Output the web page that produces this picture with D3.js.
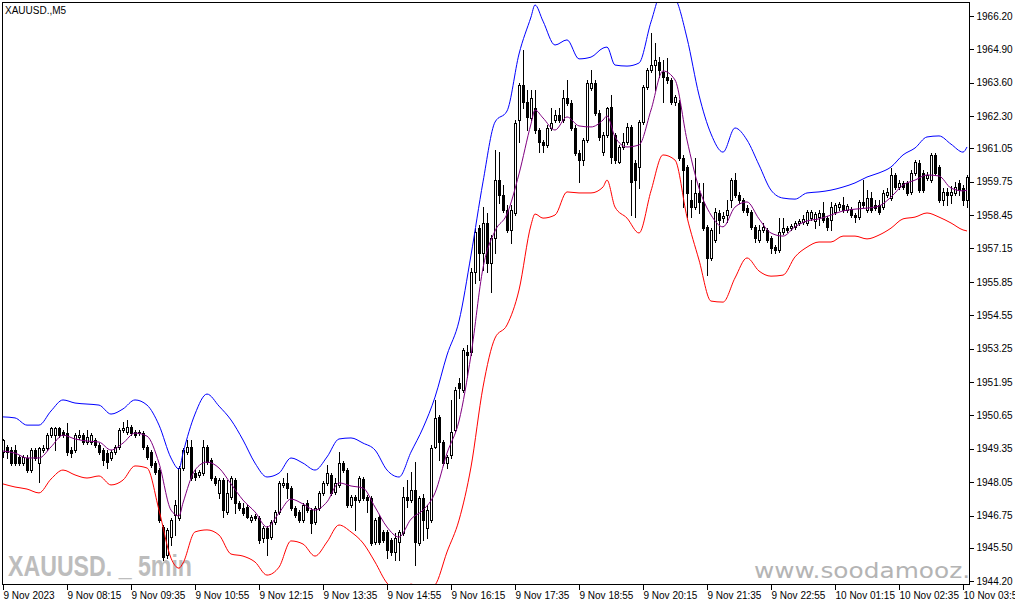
<!DOCTYPE html>
<html><head><meta charset="utf-8">
<script src="https://cdn.jsdelivr.net/npm/d3@7"></script>
<style>html,body{margin:0;padding:0;background:#fff;overflow:hidden}</style>
</head><body><svg id="c" width="1015" height="605"></svg>
<script>
const symbolLabel = "XAUUSD.,M5";
const watermarkLeft = "XAUUSD. _ 5min";
const watermarkRight = "www.soodamooz.com";
const xTickBars = [0,16,32,48,64,80,96,112,128,144,160,176,192,208,224,240];
const xTickLabels = ["9 Nov 2023","9 Nov 08:15","9 Nov 09:35","9 Nov 10:55","9 Nov 12:15","9 Nov 13:35","9 Nov 14:55","9 Nov 16:15","9 Nov 17:35","9 Nov 18:55","9 Nov 20:15","9 Nov 21:35","9 Nov 22:55","10 Nov 01:15","10 Nov 02:35","10 Nov 03:55"];
const yTickLabels = ["1966.20","1964.90","1963.60","1962.30","1961.05","1959.75","1958.45","1957.15","1955.85","1954.55","1953.25","1951.95","1950.65","1949.35","1948.05","1946.75","1945.50","1944.20"];

const open = [1949.22,1949.42,1949.30,1949.30,1949.03,1948.79,1948.99,1948.52,1949.30,1948.79,1949.30,1949.38,1949.88,1949.88,1950.16,1950.00,1949.96,1949.30,1949.30,1949.81,
1949.88,1949.61,1949.61,1949.69,1949.49,1949.30,1949.18,1948.99,1949.22,1949.42,1950.08,1950.00,1950.20,1950.00,1950.00,1949.96,1949.42,1949.22,1948.79,1948.52,
1946.30,1945.21,1945.91,1946.77,1946.65,1948.60,1949.22,1949.42,1948.40,1948.33,1948.40,1949.42,1948.91,1948.21,1947.63,1948.13,1946.89,1947.47,1948.13,1947.24,
1947.04,1947.08,1946.57,1946.73,1946.65,1945.87,1946.26,1945.91,1946.50,1946.89,1947.94,1948.02,1947.82,1947.04,1946.89,1946.57,1947.24,1946.96,1946.50,1947.04,
1947.63,1948.02,1948.33,1947.66,1947.94,1948.79,1948.52,1947.16,1947.47,1947.35,1948.17,1947.47,1947.43,1945.72,1946.69,1946.11,1946.11,1945.80,1945.33,1945.72,
1946.07,1947.47,1947.35,1947.74,1945.68,1947.43,1946.26,1946.57,1949.42,1950.59,1949.61,1948.79,1949.11,1950.08,1951.91,1951.64,1953.12,1953.12,1956.23,1957.94,
1956.97,1958.14,1956.58,1957.55,1959.81,1959.23,1958.65,1957.87,1958.53,1962.15,1963.51,1962.85,1962.23,1962.62,1961.76,1961.29,1961.18,1961.84,1962.15,1962.35,
1962.15,1963.01,1962.81,1961.84,1960.87,1960.59,1961.37,1963.40,1963.59,1962.42,1960.90,1961.57,1962.66,1961.57,1960.51,1961.10,1961.29,1961.88,1960.48,1960.32,
1962.07,1963.43,1964.10,1964.29,1964.41,1964.02,1963.82,1963.71,1962.85,1962.81,1960.67,1960.32,1959.04,1958.76,1959.31,1958.96,1957.99,1956.78,1957.48,1958.53,
1958.33,1958.45,1959.04,1959.81,1959.23,1959.04,1958.72,1958.57,1957.99,1957.48,1957.87,1957.87,1957.55,1957.20,1957.09,1957.79,1957.94,1957.94,1957.99,1958.14,
1958.18,1958.14,1958.33,1958.22,1958.37,1958.53,1958.33,1958.26,1958.57,1958.76,1958.84,1958.65,1958.68,1958.45,1958.37,1958.96,1958.65,1959.11,1958.84,1958.84,
1958.76,1959.23,1959.11,1960.01,1959.54,1959.70,1959.70,1959.35,1960.09,1960.48,1960.09,1959.89,1959.81,1960.79,1960.32,1959.04,1959.35,1959.23,1959.31,1959.70,
1959.50,1959.04];
const high = [1949.73,1949.49,1949.42,1949.49,1949.11,1949.11,1949.11,1949.38,1949.38,1949.42,1949.49,1949.96,1950.20,1950.20,1950.20,1950.08,1950.35,1949.42,1949.96,1950.08,
1949.96,1950.08,1949.96,1949.77,1949.57,1949.38,1949.30,1949.30,1949.49,1950.16,1950.39,1950.47,1950.27,1950.08,1950.08,1950.04,1949.49,1949.30,1948.87,1948.60,
1946.38,1946.26,1946.65,1947.35,1948.68,1949.38,1949.69,1949.69,1948.52,1948.52,1949.69,1949.49,1948.99,1948.29,1948.21,1948.21,1948.13,1948.29,1948.21,1947.31,
1947.24,1947.16,1946.77,1946.81,1946.73,1946.34,1946.34,1946.57,1946.96,1948.09,1948.21,1948.40,1947.90,1947.12,1946.96,1947.24,1947.35,1947.04,1947.12,1947.70,
1948.09,1948.72,1948.40,1948.21,1949.22,1948.87,1948.60,1947.55,1947.55,1948.29,1948.25,1947.55,1947.51,1946.65,1946.77,1946.19,1946.19,1945.87,1946.07,1946.19,
1947.86,1948.13,1948.44,1948.83,1947.51,1947.59,1947.16,1949.49,1951.25,1950.66,1949.69,1949.11,1951.25,1951.75,1952.10,1953.27,1953.39,1956.39,1957.94,1958.06,
1958.76,1958.53,1957.67,1960.98,1960.90,1959.62,1958.84,1958.84,1962.15,1963.59,1964.88,1963.32,1963.32,1963.32,1961.84,1961.37,1961.96,1962.62,1962.54,1962.62,
1963.32,1963.71,1962.93,1961.96,1960.98,1961.45,1963.71,1964.10,1963.71,1962.54,1961.68,1962.66,1963.12,1961.64,1961.18,1961.64,1962.04,1961.96,1960.59,1962.15,
1963.51,1964.18,1965.54,1965.15,1964.60,1964.49,1964.57,1963.79,1963.12,1962.93,1960.79,1960.40,1959.81,1960.67,1959.70,1959.70,1958.06,1957.94,1958.72,1958.65,
1958.57,1959.04,1959.89,1960.09,1959.35,1959.11,1958.84,1958.65,1958.06,1958.06,1958.14,1957.94,1957.63,1957.28,1958.33,1958.33,1958.02,1958.10,1958.22,1958.30,
1958.45,1958.65,1958.65,1958.57,1958.65,1958.96,1958.41,1958.96,1958.92,1958.96,1959.15,1958.88,1958.76,1958.53,1959.04,1959.81,1959.42,1959.35,1959.04,1959.04,
1959.42,1959.50,1960.28,1960.09,1959.81,1959.77,1959.77,1960.20,1960.59,1960.59,1960.20,1960.13,1960.87,1960.87,1960.40,1959.50,1959.50,1959.58,1959.74,1959.81,
1959.62,1960.01];
const low = [1949.03,1948.99,1948.72,1948.72,1948.72,1948.72,1948.44,1948.44,1948.91,1948.05,1949.22,1949.30,1949.81,1949.30,1949.81,1949.81,1949.11,1949.03,1949.22,1949.73,
1949.53,1949.53,1949.53,1949.42,1949.14,1948.72,1948.60,1948.91,1949.14,1949.34,1950.00,1949.92,1949.88,1949.81,1949.88,1949.34,1948.95,1948.64,1948.37,1946.50,
1945.02,1945.09,1945.60,1945.99,1946.57,1948.52,1949.14,1948.13,1948.13,1948.25,1948.33,1948.76,1948.13,1947.94,1947.43,1946.69,1946.81,1947.39,1946.85,1946.96,
1946.77,1946.65,1946.50,1946.57,1945.68,1945.72,1945.21,1945.84,1946.42,1946.81,1947.86,1947.43,1946.96,1946.69,1946.50,1946.50,1946.89,1946.07,1946.42,1946.96,
1947.55,1947.94,1947.55,1947.59,1947.86,1948.44,1947.08,1947.08,1946.19,1947.28,1947.35,1946.89,1945.60,1945.64,1945.64,1945.72,1945.09,1945.21,1945.02,1945.02,
1945.99,1947.08,1947.28,1944.82,1945.60,1945.80,1945.87,1946.50,1949.38,1948.91,1948.72,1948.60,1948.99,1950.00,1951.32,1951.56,1952.14,1953.00,1955.80,1955.92,
1956.31,1956.23,1955.45,1956.97,1958.92,1958.57,1957.79,1957.36,1958.45,1961.29,1962.62,1961.76,1962.15,1961.64,1960.90,1960.90,1961.10,1961.76,1962.07,1962.07,
1962.07,1962.73,1961.76,1960.79,1959.74,1960.40,1961.29,1963.32,1962.35,1961.37,1960.79,1961.49,1960.48,1960.48,1960.48,1961.02,1961.21,1958.45,1958.37,1959.50,
1962.00,1963.36,1964.02,1963.32,1963.82,1962.85,1963.59,1962.77,1962.73,1960.59,1958.76,1958.37,1958.37,1958.68,1958.53,1957.87,1956.11,1956.70,1957.40,1957.75,
1958.18,1958.18,1958.76,1959.15,1958.92,1958.57,1958.45,1957.91,1957.40,1957.40,1957.79,1957.40,1956.97,1956.97,1957.01,1957.71,1957.79,1957.87,1957.91,1958.06,
1958.10,1958.06,1958.26,1957.94,1958.06,1958.18,1957.87,1957.87,1958.49,1958.65,1958.57,1958.57,1958.37,1958.18,1958.30,1958.76,1958.57,1958.57,1958.65,1958.49,
1958.68,1959.15,1959.04,1959.46,1959.46,1959.46,1959.23,1959.27,1960.01,1959.35,1959.35,1959.81,1959.74,1960.01,1958.96,1958.84,1958.84,1958.92,1959.23,1959.23,
1958.84,1958.76];
const close = [1949.69,1949.22,1948.79,1948.79,1948.79,1949.03,1948.52,1949.30,1948.99,1949.38,1949.38,1949.88,1950.16,1950.16,1949.88,1949.88,1949.22,1949.18,1949.88,1949.88,
1949.61,1949.81,1949.88,1949.49,1949.22,1948.91,1948.83,1949.22,1949.42,1950.08,1950.16,1950.20,1949.96,1949.88,1949.96,1949.42,1949.03,1948.72,1948.44,1946.57,
1945.13,1946.19,1946.57,1947.16,1948.60,1949.30,1949.42,1948.21,1948.25,1948.44,1949.42,1948.83,1948.21,1948.02,1948.13,1946.96,1947.63,1948.21,1947.24,1947.04,
1946.85,1946.69,1946.69,1946.65,1945.80,1946.26,1945.87,1946.50,1946.89,1948.02,1948.02,1947.82,1947.04,1946.77,1946.57,1947.16,1946.96,1946.46,1947.04,1947.63,
1948.02,1948.40,1947.63,1948.02,1948.79,1948.52,1947.16,1947.47,1947.35,1948.21,1947.43,1947.35,1945.68,1946.57,1945.72,1945.80,1945.41,1945.33,1945.87,1946.11,
1947.47,1947.35,1947.74,1945.72,1947.43,1946.57,1946.96,1949.38,1950.55,1949.61,1948.79,1949.03,1950.00,1951.64,1951.71,1953.19,1953.00,1956.23,1957.79,1956.97,
1958.14,1956.58,1957.55,1959.81,1959.23,1958.65,1957.87,1958.65,1962.04,1963.51,1962.85,1962.27,1963.01,1961.76,1961.29,1961.18,1961.84,1962.04,1962.35,1962.15,
1963.01,1962.81,1961.84,1960.87,1960.59,1961.37,1963.59,1963.59,1962.42,1961.49,1961.57,1962.62,1960.71,1960.59,1961.10,1961.29,1961.88,1959.74,1959.81,1962.07,
1963.43,1964.10,1964.29,1964.49,1964.10,1963.82,1963.71,1962.85,1963.05,1960.67,1960.20,1959.31,1958.76,1959.31,1958.96,1957.94,1956.78,1957.87,1958.57,1958.26,
1958.41,1958.65,1959.81,1959.23,1959.04,1958.65,1958.57,1957.99,1957.55,1957.87,1957.99,1957.48,1957.17,1957.09,1957.79,1957.94,1957.87,1958.02,1958.14,1958.22,
1958.30,1958.57,1958.57,1958.49,1958.53,1958.26,1957.99,1958.76,1958.84,1958.88,1958.65,1958.80,1958.45,1958.37,1958.96,1958.84,1959.11,1958.65,1958.72,1958.57,
1959.31,1959.35,1960.01,1959.54,1959.70,1959.54,1959.31,1960.09,1960.51,1959.42,1959.42,1960.01,1960.79,1960.09,1959.04,1959.35,1959.23,1959.35,1959.54,1959.42,
1959.04,1959.93];

const bandBars = [0,3,6,9,12,15,18,21,24,27,30,33,36,39,42,44,45,48,51,54,57,60,63,66,69,72,75,78,81,84,87,90,93,96,99,102,105,108,111,114,117,
120,123,126,129,132,133,135,138,141,144,147,150,151,153,156,159,162,165,168,171,174,177,180,183,186,189,192,195,198,201,204,207,210,213,216,219,222,225,228,231,234,237,240,241];
const upperBand = [1950.59,1950.55,1950.27,1950.27,1950.82,1951.25,1951.13,1951.09,1951.05,1950.70,1950.90,1951.25,1951.05,1950.27,1948.99,1948.56,1949.18,1950.70,1951.48,1951.01,1950.47,
1949.69,1948.79,1948.25,1948.40,1948.99,1948.79,1948.52,1949.03,1949.73,1949.77,1949.57,1949.30,1948.52,1948.25,1949.22,1950.16,1951.36,1953.00,1954.32,1956.89,
1959.74,1962.07,1962.50,1964.72,1966.16,1966.63,1966.00,1965.07,1965.27,1964.53,1964.60,1964.95,1964.99,1964.29,1964.25,1964.37,1965.97,1967.21,1966.90,1965.34,1963.12,1961.61,
1960.90,1961.84,1961.37,1960.40,1959.42,1959.11,1959.07,1959.31,1959.35,1959.42,1959.54,1959.70,1959.93,1960.09,1960.32,1960.79,1961.06,1961.49,1961.53,1961.21,
1960.90,1961.10];
const middleBand = [1949.26,1949.18,1948.99,1948.99,1949.42,1949.88,1949.73,1949.65,1949.61,1949.30,1949.57,1949.96,1949.84,1948.79,1946.96,1946.73,1947.24,1948.52,1948.83,1948.60,1947.98,
1947.35,1946.89,1946.30,1946.85,1947.39,1947.20,1946.96,1947.28,1948.02,1947.90,1947.82,1947.08,1946.30,1945.91,1946.61,1946.96,1947.63,1949.18,1950.43,1953.00,
1956.39,1957.83,1958.49,1960.05,1962.00,1962.54,1962.23,1961.76,1962.27,1961.92,1961.88,1962.15,1962.31,1961.49,1961.10,1961.18,1962.54,1964.06,1963.71,1961.37,1959.50,1958.45,
1957.99,1958.76,1958.96,1958.30,1957.75,1957.63,1957.99,1958.22,1958.30,1958.45,1958.61,1958.68,1958.72,1958.80,1959.15,1959.62,1959.81,1960.01,1959.97,1959.50,
1959.39,1959.42];
const lowerBand = [1947.98,1947.86,1947.78,1947.63,1948.17,1948.52,1948.33,1948.21,1948.29,1947.94,1948.13,1948.68,1948.60,1946.96,1945.09,1944.70,1944.90,1946.11,1946.19,1945.99,1945.25,
1945.17,1944.94,1944.43,1944.74,1945.76,1945.64,1945.17,1945.72,1946.38,1946.11,1945.68,1944.94,1944.12,1943.85,1944.08,1943.77,1944.04,1945.33,1946.57,1948.64,
1951.75,1953.66,1954.17,1955.53,1958.06,1958.49,1958.33,1958.45,1959.35,1959.31,1959.31,1959.54,1959.81,1958.76,1958.33,1957.75,1959.39,1960.79,1960.59,1958.37,1956.70,1955.10,
1955.06,1956.00,1956.78,1956.27,1956.07,1956.11,1956.82,1957.20,1957.40,1957.40,1957.63,1957.63,1957.52,1957.67,1957.94,1958.30,1958.37,1958.53,1958.37,1958.14,
1957.87,1957.83];

const svg = d3.select("#c");
const W = 1015, H = 605;
const pl = {left: 2, top: 2, right: 969, bottom: 585};
svg.append("rect").attr("width", W).attr("height", H).attr("fill", "#fff");

const x = d3.scaleLinear().domain([0, 241]).range([3, 967]);
const y = d3.scaleLinear().domain([1944.20, 1966.20]).range([581, 16]);

svg.append("clipPath").attr("id", "pc").append("rect")
  .attr("x", pl.left + 1).attr("y", pl.top + 1)
  .attr("width", pl.right - pl.left - 1).attr("height", pl.bottom - pl.top - 1);

const plot = svg.append("g").attr("clip-path", "url(#pc)");

// watermarks
plot.append("text").attr("x", 8).attr("y", 576)
  .attr("font-family", "Liberation Sans, Arial, sans-serif").attr("font-weight", "bold")
  .attr("font-size", 30).attr("fill", "#bdbdbd")
  .attr("textLength", 184).attr("lengthAdjust", "spacingAndGlyphs")
  .text(watermarkLeft);
plot.append("text").attr("x", 754).attr("y", 578)
  .attr("font-family", "DejaVu Sans, Verdana, sans-serif")
  .attr("font-size", 21).attr("fill", "#b4b4b4")
  .attr("textLength", 269).attr("lengthAdjust", "spacingAndGlyphs")
  .text(watermarkRight);

// candles
const idx = d3.range(open.length);
const cg = plot.append("g").attr("shape-rendering", "crispEdges");
idx.forEach(i => {
  const xc = Math.round(x(i));
  const yh = Math.round(y(high[i])), yl = Math.round(y(low[i]));
  const yt = Math.round(y(Math.max(open[i], close[i])));
  const yb = Math.round(y(Math.min(open[i], close[i])));
  const bull = close[i] >= open[i];
  cg.append("rect").attr("x", xc).attr("y", yh).attr("width", 1).attr("height", Math.max(1, yl - yh + 1)).attr("fill", "#000");
  cg.append("rect").attr("x", xc - 0.5).attr("y", yt + 0.5)
    .attr("width", 2).attr("height", Math.max(0, yb - yt))
    .attr("fill", bull ? "#fff" : "#000").attr("stroke", "#000").attr("stroke-width", 1);
});

// bands
function band(vals, color) {
  const pts = bandBars.map((b, k) => [x(b), y(vals[k])]);
  plot.append("path").attr("d", d3.line().curve(d3.curveMonotoneX)(pts))
    .attr("fill", "none").attr("stroke", color).attr("stroke-width", 1);
}
band(upperBand, "#0000ff");
band(lowerBand, "#ff0000");
band(middleBand, "#800080");

// frame
svg.append("rect").attr("x", pl.left + 0.5).attr("y", pl.top + 0.5)
  .attr("width", pl.right - pl.left).attr("height", pl.bottom - pl.top - 1)
  .attr("fill", "none").attr("stroke", "#000").attr("stroke-width", 1).attr("shape-rendering", "crispEdges");

// y axis (right)
const yAxis = d3.axisRight(y).tickValues(yTickLabels.map(Number)).tickSize(4).tickPadding(3)
  .tickFormat((d, k) => yTickLabels[k]);
const ya = svg.append("g").attr("transform", `translate(${pl.right + 0.5},0)`).call(yAxis);
ya.select(".domain").remove();
ya.selectAll("line").attr("stroke", "#000").attr("shape-rendering", "crispEdges");
ya.selectAll("text").attr("font-family", "Liberation Sans, Arial, sans-serif").attr("font-size", 10).attr("fill", "#000");

// x axis (bottom)
const xAxis = d3.axisBottom(x).tickValues(xTickBars).tickSize(5).tickPadding(2)
  .tickFormat((d, k) => xTickLabels[k]);
const xa = svg.append("g").attr("transform", `translate(0,${pl.bottom - 0.5})`).call(xAxis);
xa.select(".domain").remove();
xa.selectAll("line").attr("stroke", "#000").attr("shape-rendering", "crispEdges");
xa.selectAll("text").attr("text-anchor", "start").attr("font-family", "Liberation Sans, Arial, sans-serif")
  .attr("font-size", 10).attr("fill", "#000");

// symbol label
svg.append("text").attr("x", 5).attr("y", 14).attr("font-family", "Liberation Sans, Arial, sans-serif")
  .attr("font-size", 10).attr("fill", "#000").text(symbolLabel);
</script></body></html>
